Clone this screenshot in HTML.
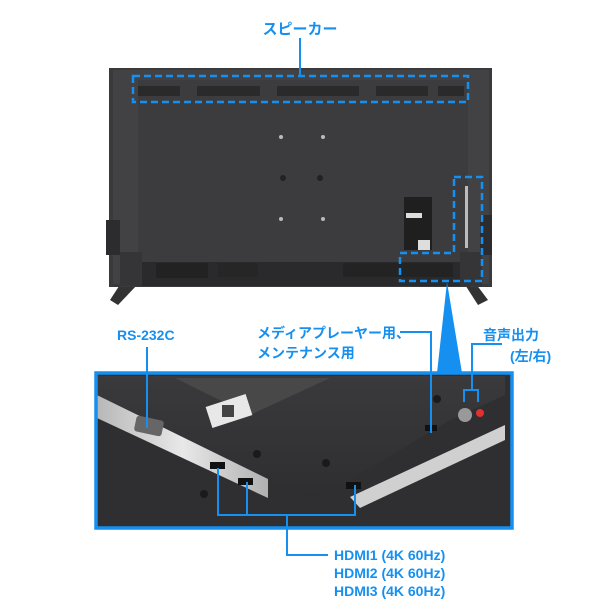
<!DOCTYPE html>
<html><head><meta charset="utf-8"><style>
html,body{margin:0;padding:0;background:#fff;}
svg{display:block}
text{font-family:"Liberation Sans","Noto Sans CJK JP",sans-serif;font-weight:bold;fill:#1590f0;}
</style></head><body>
<svg width="600" height="600" viewBox="0 0 600 600" xmlns="http://www.w3.org/2000/svg">
<defs>
<linearGradient id="pl" x1="0" y1="0" x2="0" y2="1"><stop offset="0" stop-color="#3a3a3c"/><stop offset="1" stop-color="#2e2e30"/></linearGradient>
<linearGradient id="sv" x1="0" y1="0" x2="1" y2="0"><stop offset="0" stop-color="#b8b8b8"/><stop offset="0.5" stop-color="#e8e8e8"/><stop offset="1" stop-color="#b0b0b0"/></linearGradient>
</defs>
<path d="M123,280 L110,300 L118,305 L138,284 Z" fill="#333"/>
<path d="M462,280 L478,305 L488,300 L473,280 Z" fill="#333"/>
<rect x="109" y="68" width="383" height="219" fill="#3a3a3c"/>
<rect x="113" y="70" width="376" height="214" fill="#424244"/>
<rect x="138" y="80" width="330" height="182" fill="#3c3c3e"/>
<rect x="106" y="220" width="14" height="35" fill="#2c2c2e"/>
<rect x="480" y="215" width="12" height="40" fill="#2c2c2e"/>
<rect x="120" y="252" width="22" height="34" fill="#353537"/>
<rect x="460" y="252" width="22" height="34" fill="#353537"/>
<rect x="142" y="262" width="318" height="24" fill="#2a2a2c"/>
<rect x="156" y="263" width="52" height="15" fill="#222"/>
<rect x="218" y="263" width="40" height="14" fill="#262626"/>
<rect x="343" y="263" width="110" height="14" fill="#232323"/>
<g fill="#2a2a2a"><rect x="138" y="86" width="42" height="10"/><rect x="197" y="86" width="63" height="10"/><rect x="277" y="86" width="82" height="10"/><rect x="376" y="86" width="52" height="10"/><rect x="438" y="86" width="26" height="10"/></g>
<g fill="#bbb"><circle cx="281" cy="137" r="2"/><circle cx="323" cy="137" r="2"/><circle cx="281" cy="219" r="2"/><circle cx="323" cy="219" r="2"/></g>
<g fill="#222"><circle cx="283" cy="178" r="3"/><circle cx="320" cy="178" r="3"/></g>
<rect x="404" y="197" width="28" height="53" fill="#1f1f1f"/>
<rect x="406" y="213" width="16" height="5" fill="#ddd"/>
<rect x="418" y="240" width="12" height="10" fill="#ddd"/>
<rect x="465" y="186" width="3" height="62" fill="#bbb"/>
<rect x="133" y="76" width="335" height="26" fill="none" stroke="#1590f0" stroke-width="2.5" stroke-dasharray="7,4"/>
<path d="M454,177 H482 V281 H400 V253 H454 Z" fill="none" stroke="#1590f0" stroke-width="2.5" stroke-dasharray="7,4"/>
<line x1="300" y1="38" x2="300" y2="76" stroke="#1590f0" stroke-width="2"/>
<text x="300" y="34" font-size="15" text-anchor="middle">スピーカー</text>
<path d="M447,282 L437,373 L462,373 Z" fill="#1590f0"/>
<rect x="96" y="373" width="416" height="155" fill="#2f2f31"/>
<path d="M97,395 L268,478 L268,498 L97,418 Z" fill="url(#sv)"/>
<path d="M350,497 L505,425 L505,440 L360,508 Z" fill="#d0d0d0"/>
<path d="M97,376 L505,376 L505,395 L450,420 L350,480 L310,498 L270,480 L97,395 Z" fill="url(#pl)"/>
<path d="M175,378 L330,378 L250,415 L175,378 Z" fill="#484848"/>
<rect x="208" y="400" width="42" height="22" fill="#e8e8e8" transform="rotate(-18 229 411)"/>
<rect x="222" y="405" width="12" height="12" fill="#444"/>
<rect x="135" y="418" width="28" height="16" rx="3" fill="#666" transform="rotate(12 149 426)"/>
<rect x="210" y="462" width="15" height="7" fill="#111"/>
<rect x="238" y="478" width="15" height="7" fill="#111"/>
<rect x="346" y="482" width="15" height="7" fill="#111"/>
<rect x="425" y="425" width="12" height="6" fill="#111"/>
<circle cx="465" cy="415" r="7" fill="#999"/>
<circle cx="480" cy="413" r="4" fill="#e03030"/>
<g fill="#1a1a1a"><circle cx="257" cy="454" r="4"/><circle cx="326" cy="463" r="4"/><circle cx="437" cy="399" r="4"/><circle cx="204" cy="494" r="4"/></g>
<rect x="96" y="373" width="416" height="155" fill="none" stroke="#1590f0" stroke-width="3.5"/>
<g stroke="#1590f0" stroke-width="2" fill="none">
<path d="M147,347 V428"/>
<path d="M400,332 H431 V433"/>
<path d="M502,344 H472 V390"/>
<path d="M464,402 V390 H478 V402"/>
<path d="M218,468 V515 H355 V485"/>
<path d="M247,482 V515"/>
<path d="M287,515 V555 H328"/>
</g>
<text x="117" y="340" font-size="14">RS-232C</text>
<text x="257" y="338" font-size="14">メディアプレーヤー用、</text>
<text x="257" y="358" font-size="14">メンテナンス用</text>
<text x="483" y="340" font-size="14">音声出力</text>
<text x="510" y="361" font-size="14">(左/右)</text>
<text x="334" y="560" font-size="14">HDMI1 (4K 60Hz)</text>
<text x="334" y="578" font-size="14">HDMI2 (4K 60Hz)</text>
<text x="334" y="596" font-size="14">HDMI3 (4K 60Hz)</text>
</svg>
</body></html>
